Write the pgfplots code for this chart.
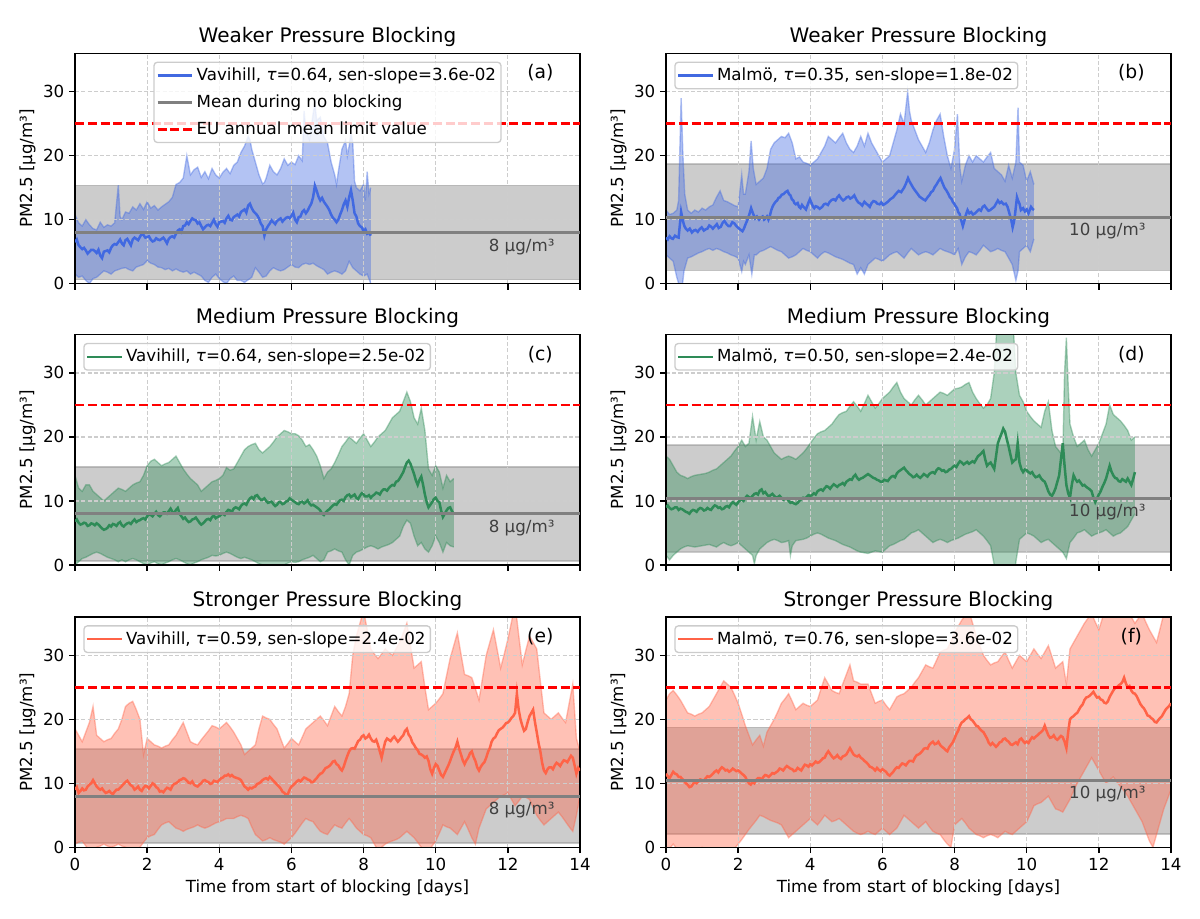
\documentclass[border=0pt]{standalone}
\usepackage{fontspec}
\setmainfont{DejaVu Sans}
\usepackage{pgfplots}
\pgfplotsset{compat=1.18}
\usepgfplotslibrary{fillbetween}
\definecolor{royalblue}{RGB}{65,105,225}
\definecolor{seagreen}{RGB}{46,139,87}
\definecolor{tomato}{RGB}{255,99,71}
\definecolor{mgray}{RGB}{128,128,128}
\definecolor{gridc}{RGB}{205,205,205}
\definecolor{legc}{RGB}{204,204,204}
\definecolor{txtgray}{RGB}{64,64,64}
\tikzset{
  lbl/.style={anchor=east, inner sep=0pt, text=txtgray, font=\fontsize{12}{14}\selectfont},
  plab/.style={font=\fontsize{13.5}{16}\selectfont},
}
\pgfplotsset{
  panel/.style={
    set layers, clip mode=individual,
    scale only axis, width=363.6pt, height=165.9pt,
    xmin=0, xmax=14, ymin=0, ymax=36,
    xtick={0,2,...,14}, ytick={0,10,20,30},
    tick pos=left, tick align=outside,
    major tick length=4.2pt,
    tick style={black, line width=0.96pt},
    axis line style={line width=0.96pt},
    grid=major,
    major grid style={draw=gridc, line width=0.9pt, dash pattern=on 3pt off 1.5pt},
    tick label style={font=\fontsize{12}{14}\selectfont},
    /pgf/number format/assume math mode=true,
    ylabel={PM2.5 [μg/m³]},
    ylabel style={font=\fontsize{12}{14}\selectfont, yshift=-1.5pt},
    xlabel style={font=\fontsize{12}{14}\selectfont},
    every axis title shift=0pt,
    title style={font=\fontsize{14.4}{17}\selectfont, at={(0.5,1)}, anchor=base, yshift=7.6pt},
    legend cell align=left,
    legend image code/.code={\draw[##1] (0pt,0pt) -- (25pt,0pt);},
    legend style={font=\fontsize{12}{14}\selectfont, draw=legc, line width=0.96pt,
      fill=white, fill opacity=0.8, draw opacity=1, text opacity=1, rounded corners=2.4pt,
      inner xsep=1.5pt, inner ysep=2pt, row sep=4.2pt,
      nodes={inner sep=2pt, text depth=0.2em},
      /tikz/every even column/.append style={column sep=4.5pt},
      at={(0,1)}, anchor=north west, xshift=6pt, yshift=-6pt},
    fill between/on layer=axis background,
  },
  band/.style={draw=mgray, draw opacity=0.4, fill=mgray, fill opacity=0.4, line width=1.2pt, on layer=axis background, forget plot},
  edge/.style={draw=#1, draw opacity=0.4, line width=1pt, on layer=axis background, forget plot},
  meanline/.style={mgray, line width=2.2pt},
  euline/.style={red, line width=2pt, dash pattern=on 6.5pt off 2.7pt},
}
\begin{document}
\begin{tikzpicture}
\path (0,0) rectangle (864pt,660.96pt);
% ---------------- (a) ----------------
\begin{axis}[panel, at={(54pt,456.7pt)}, anchor=south west, title={Weaker Pressure Blocking}, xticklabels={},
  legend style={at={(0.5,1)}, anchor=north, xshift=-6pt, yshift=0pt}]
\addplot[band] coordinates {(0,0.65)(14,0.65)(14,15.35)(0,15.35)(0,0.65)};
\addplot[edge=royalblue, name path=aU] coordinates {(0,10.8)(0.1,9.5)(0.2,9.0)(0.3,10.0)(0.4,9.2)(0.5,8.6)(0.6,8.4)(0.7,9.6)(0.8,8.8)(0.9,9.2)(1.0,9.0)(1.1,9.5)(1.2,15.4)(1.25,10.5)(1.3,10.0)(1.4,11.2)(1.5,11.0)(1.6,12.0)(1.7,11.5)(1.8,12.5)(1.9,11.6)(2.0,12.8)(2.1,11.8)(2.2,12.2)(2.3,11.5)(2.4,12.0)(2.5,12.4)(2.6,12.8)(2.7,13.5)(2.8,15.5)(2.9,15.8)(3.0,16.5)(3.1,20.0)(3.2,17.0)(3.3,17.8)(3.4,18.2)(3.5,16.6)(3.6,17.5)(3.7,16.4)(3.8,18.0)(3.9,17.0)(4.0,16.5)(4.1,17.4)(4.2,18.0)(4.3,17.2)(4.4,18.5)(4.5,19.0)(4.6,20.5)(4.7,21.5)(4.8,23.0)(4.85,22.5)(4.9,21.0)(5.0,19.0)(5.1,17.0)(5.2,15.6)(5.25,15.8)(5.3,16.5)(5.4,18.5)(5.5,17.5)(5.6,17.0)(5.7,18.0)(5.8,19.5)(5.9,18.5)(6.0,19.0)(6.1,18.6)(6.2,20.0)(6.3,19.2)(6.35,27.0)(6.4,24.0)(6.5,22.5)(6.6,26.5)(6.65,28.2)(6.7,25.5)(6.8,26.0)(6.9,23.0)(7.0,22.0)(7.1,19.0)(7.2,17.0)(7.25,15.5)(7.3,17.5)(7.4,21.0)(7.5,22.4)(7.55,20.0)(7.6,21.5)(7.65,23.5)(7.7,22.0)(7.75,16.0)(7.8,15.0)(7.9,14.5)(8.0,15.5)(8.05,13.0)(8.1,17.5)(8.15,14.0)(8.2,15.0)};
\addplot[edge=royalblue, name path=aL] coordinates {(0,1.5)(0.1,1.0)(0.2,1.2)(0.3,0.5)(0.4,0.0)(0.5,0.8)(0.6,1.0)(0.7,1.5)(0.8,2.0)(0.9,1.8)(1.0,1.5)(1.1,2.0)(1.2,2.2)(1.3,2.4)(1.4,2.5)(1.5,2.2)(1.6,2.0)(1.7,2.6)(1.8,2.8)(1.9,3.0)(2.0,3.6)(2.1,3.2)(2.2,3.0)(2.3,2.6)(2.4,2.5)(2.5,2.2)(2.6,2.4)(2.7,2.0)(2.8,2.3)(2.9,2.0)(3.0,1.8)(3.1,2.0)(3.2,1.5)(3.3,1.8)(3.4,1.5)(3.5,1.2)(3.6,0.5)(3.7,0.2)(3.8,1.0)(3.9,1.5)(4.0,0.8)(4.1,0.3)(4.2,0.0)(4.3,0.8)(4.4,1.2)(4.5,0.5)(4.6,0.5)(4.7,0.2)(4.8,0.6)(4.9,1.0)(5.0,2.5)(5.1,1.8)(5.2,1.0)(5.3,1.2)(5.4,2.0)(5.5,2.5)(5.6,2.2)(5.7,2.0)(5.8,2.2)(5.9,2.6)(6.0,3.0)(6.1,2.6)(6.2,2.5)(6.3,3.0)(6.4,3.2)(6.5,3.0)(6.6,3.2)(6.7,2.8)(6.8,2.5)(6.9,2.2)(7.0,1.5)(7.1,1.8)(7.2,2.0)(7.3,1.8)(7.4,1.5)(7.5,2.0)(7.6,3.5)(7.7,2.5)(7.8,2.0)(7.9,1.5)(8.0,1.2)(8.1,1.5)(8.2,0.0)};
\addplot[fill=royalblue, fill opacity=0.4, draw=none, forget plot] fill between[of=aU and aL];
\addplot[royalblue, line width=1.8pt] coordinates {(0,6.5)(0.05,6.9)(0.1,6.0)(0.15,5.7)(0.2,5.4)(0.25,5.6)(0.3,5.2)(0.35,4.7)(0.4,5.0)(0.45,5.3)(0.5,5.3)(0.55,5.1)(0.6,4.8)(0.65,5.3)(0.7,4.4)(0.75,4.0)(0.8,5.0)(0.85,5.1)(0.9,5.2)(0.95,4.9)(1.0,5.6)(1.05,6.0)(1.1,6.2)(1.15,6.1)(1.2,6.5)(1.25,6.9)(1.3,6.3)(1.35,6.0)(1.4,6.8)(1.45,7.0)(1.5,6.5)(1.55,6.0)(1.6,6.9)(1.65,7.2)(1.7,7.0)(1.75,6.8)(1.8,7.3)(1.85,7.8)(1.9,7.6)(1.95,7.2)(2.0,7.3)(2.05,7.4)(2.1,6.9)(2.15,6.6)(2.2,6.7)(2.25,7.1)(2.3,6.9)(2.35,6.8)(2.4,7.0)(2.45,7.2)(2.5,6.8)(2.55,6.3)(2.6,7.0)(2.65,7.3)(2.7,7.4)(2.75,7.2)(2.8,7.8)(2.85,8.3)(2.9,8.5)(2.95,8.1)(3.0,9.0)(3.05,9.1)(3.1,9.6)(3.15,9.3)(3.2,9.8)(3.25,10.2)(3.3,10.0)(3.35,9.9)(3.4,9.4)(3.45,9.6)(3.5,9.0)(3.55,8.5)(3.6,8.8)(3.65,9.1)(3.7,9.2)(3.75,9.0)(3.8,9.5)(3.85,10.0)(3.9,9.3)(3.95,8.9)(4.0,9.6)(4.05,9.7)(4.1,9.8)(4.15,9.5)(4.2,10.2)(4.25,10.6)(4.3,10.0)(4.35,9.9)(4.4,10.4)(4.45,10.6)(4.5,10.8)(4.55,10.5)(4.6,11.2)(4.65,11.4)(4.7,11.6)(4.75,11.1)(4.8,12.2)(4.85,12.5)(4.9,11.8)(4.95,11.3)(5.0,11.0)(5.05,10.7)(5.1,10.2)(5.15,9.4)(5.2,9.0)(5.25,7.5)(5.3,8.5)(5.35,9.0)(5.4,9.4)(5.45,9.9)(5.5,9.6)(5.55,9.3)(5.6,9.8)(5.65,10.0)(5.7,10.2)(5.75,9.7)(5.8,10.0)(5.85,10.3)(5.9,10.4)(5.95,10.2)(6.0,10.6)(6.05,11.1)(6.1,10.0)(6.15,9.6)(6.2,10.4)(6.25,10.5)(6.3,11.2)(6.35,11.5)(6.4,11.0)(6.45,11.4)(6.5,12.0)(6.55,12.5)(6.6,13.5)(6.65,15.3)(6.7,14.5)(6.75,13.6)(6.8,13.0)(6.85,13.4)(6.9,12.8)(6.95,12.4)(7.0,12.0)(7.05,11.5)(7.1,10.8)(7.15,10.3)(7.2,10.0)(7.25,9.6)(7.3,10.0)(7.35,10.8)(7.4,11.5)(7.45,12.4)(7.5,13.0)(7.55,12.0)(7.6,13.5)(7.65,14.6)(7.7,13.0)(7.75,11.0)(7.8,10.5)(7.85,9.4)(7.9,9.0)(7.95,8.8)(8.0,8.2)(8.05,8.5)(8.1,7.8)(8.15,8.0)(8.2,7.5)};
\addlegendentry{Vavihill, \textit{τ}=0.64, sen-slope=3.6e-02}
\addplot[meanline] coordinates {(0,8)(14,8)};
\addlegendentry{Mean during no blocking}
\addplot[euline] coordinates {(0,25)(14,25)};
\addlegendentry{EU annual mean limit value}
\node[lbl] at (axis cs:13.3,5.8) {8 μg/m³};
\node[plab] at (axis cs:12.9,32.9) {(a)};
\end{axis}
% ---------------- (b) ----------------
\begin{axis}[panel, at={(479.5pt,456.7pt)}, anchor=south west, title={Weaker Pressure Blocking}, xticklabels={}]
\addplot[band] coordinates {(0,2.07)(14,2.07)(14,18.73)(0,18.73)(0,2.07)};
\addplot[edge=royalblue, name path=bU] coordinates {(0,11.5)(0.1,10.8)(0.2,11.0)(0.3,11.5)(0.35,13.0)(0.42,29.0)(0.47,20.0)(0.52,14.0)(0.6,11.5)(0.7,11.0)(0.8,11.5)(0.9,11.2)(1.0,11.8)(1.1,11.5)(1.2,12.0)(1.3,12.3)(1.4,13.5)(1.5,14.5)(1.6,13.0)(1.7,12.8)(1.8,12.5)(1.9,12.2)(2.0,12.0)(2.1,17.0)(2.15,14.0)(2.2,14.0)(2.3,17.5)(2.36,22.3)(2.42,18.0)(2.5,15.5)(2.6,16.0)(2.7,16.5)(2.8,18.0)(2.9,21.0)(3.0,22.0)(3.1,22.5)(3.2,23.0)(3.3,22.8)(3.4,23.5)(3.5,22.0)(3.6,19.5)(3.7,19.8)(3.8,19.0)(3.9,18.8)(4.0,18.5)(4.1,19.0)(4.2,19.5)(4.3,20.5)(4.4,21.5)(4.5,23.0)(4.6,22.5)(4.7,22.0)(4.8,22.8)(4.9,23.5)(5.0,22.0)(5.1,21.0)(5.2,20.5)(5.3,21.5)(5.4,23.0)(5.5,21.5)(5.6,23.5)(5.7,22.0)(5.8,21.0)(5.9,20.0)(6.0,19.0)(6.1,19.5)(6.2,20.0)(6.3,22.0)(6.4,24.0)(6.5,26.5)(6.6,25.0)(6.7,30.0)(6.75,27.0)(6.8,25.5)(6.9,24.0)(7.0,22.5)(7.1,21.5)(7.2,20.5)(7.3,22.0)(7.4,24.0)(7.5,25.5)(7.6,26.5)(7.7,23.0)(7.8,20.0)(7.9,18.0)(8.0,21.0)(8.08,26.5)(8.15,18.0)(8.2,16.0)(8.3,18.5)(8.4,20.0)(8.5,19.0)(8.6,20.0)(8.7,19.5)(8.8,19.0)(8.9,19.8)(9.0,20.5)(9.1,18.0)(9.2,17.5)(9.3,17.0)(9.4,16.0)(9.5,18.5)(9.6,16.5)(9.7,19.0)(9.76,27.5)(9.8,19.0)(9.9,18.5)(10.0,16.0)(10.1,17.5)(10.2,15.5)};
\addplot[edge=royalblue, name path=bL] coordinates {(0,4.5)(0.1,4.0)(0.2,3.5)(0.3,1.0)(0.38,-0.5)(0.45,-0.5)(0.5,2.0)(0.6,4.0)(0.7,4.2)(0.8,4.5)(0.9,4.8)(1.0,5.0)(1.1,5.3)(1.2,5.5)(1.3,5.2)(1.4,5.5)(1.5,5.3)(1.6,5.0)(1.7,4.8)(1.8,4.5)(1.9,4.3)(2.0,4.0)(2.1,1.9)(2.15,3.5)(2.2,3.0)(2.3,4.5)(2.38,1.5)(2.45,4.5)(2.5,4.5)(2.6,5.0)(2.7,5.2)(2.8,5.5)(2.9,5.8)(3.0,5.5)(3.1,5.2)(3.2,5.0)(3.3,4.5)(3.4,4.0)(3.5,4.2)(3.6,4.5)(3.7,5.0)(3.8,5.5)(3.9,5.2)(4.0,5.0)(4.1,4.5)(4.2,4.0)(4.3,4.6)(4.4,5.0)(4.5,4.8)(4.6,4.5)(4.7,4.2)(4.8,4.0)(4.9,3.8)(5.0,3.5)(5.1,3.2)(5.2,3.0)(5.3,1.5)(5.4,2.5)(5.5,1.5)(5.6,3.0)(5.7,3.5)(5.8,4.0)(5.9,3.8)(6.0,3.5)(6.1,4.0)(6.2,4.5)(6.3,4.8)(6.4,5.0)(6.5,4.5)(6.6,4.0)(6.7,4.8)(6.8,5.5)(6.9,5.0)(7.0,4.5)(7.1,4.8)(7.2,5.0)(7.3,4.8)(7.4,4.5)(7.5,5.0)(7.6,5.5)(7.7,5.2)(7.8,5.0)(7.9,4.8)(8.0,4.5)(8.1,5.5)(8.2,3.0)(8.3,4.2)(8.4,5.0)(8.5,4.8)(8.6,4.5)(8.7,5.2)(8.8,6.0)(8.9,5.5)(9.0,5.0)(9.1,5.2)(9.2,5.5)(9.3,5.2)(9.4,5.0)(9.5,4.0)(9.6,3.0)(9.7,0.5)(9.76,2.0)(9.8,5.0)(9.9,5.5)(10.0,6.0)(10.1,5.0)(10.2,7.0)};
\addplot[fill=royalblue, fill opacity=0.4, draw=none, forget plot] fill between[of=bU and bL];
\addplot[royalblue, line width=1.8pt] coordinates {(0,7.2)(0.05,6.9)(0.1,7.4)(0.15,7.1)(0.19,7.0)(0.25,7.5)(0.3,7.3)(0.35,7.2)(0.42,11.2)(0.47,9.8)(0.51,9.0)(0.55,8.6)(0.6,8.3)(0.66,8.6)(0.72,8.0)(0.77,8.3)(0.82,8.4)(0.88,8.1)(0.93,8.5)(0.99,8.8)(1.05,8.3)(1.1,8.5)(1.15,8.6)(1.2,9.1)(1.25,8.9)(1.3,8.6)(1.36,9.0)(1.41,9.3)(1.46,8.7)(1.52,8.9)(1.57,9.5)(1.62,9.8)(1.68,9.3)(1.73,9.0)(1.78,9.0)(1.84,9.6)(1.9,9.4)(1.95,9.0)(1.99,8.8)(2.05,8.5)(2.12,8.2)(2.16,8.6)(2.2,9.2)(2.26,10.0)(2.31,10.8)(2.36,11.8)(2.41,11.0)(2.47,10.2)(2.52,10.5)(2.58,10.0)(2.63,10.3)(2.68,10.5)(2.72,10.0)(2.76,10.2)(2.8,10.5)(2.84,10.0)(2.88,10.6)(2.92,11.5)(2.96,12.1)(3.0,12.5)(3.04,12.8)(3.08,13.0)(3.12,13.4)(3.16,13.5)(3.21,13.9)(3.26,14.0)(3.31,14.3)(3.37,14.5)(3.41,14.0)(3.45,13.8)(3.49,13.2)(3.53,13.0)(3.56,12.6)(3.6,12.4)(3.65,12.6)(3.69,12.0)(3.73,11.8)(3.77,12.3)(3.81,12.0)(3.85,11.8)(3.88,11.6)(3.92,12.2)(3.96,12.8)(3.99,13.2)(4.02,12.8)(4.05,12.4)(4.08,12.0)(4.11,11.8)(4.15,12.1)(4.2,12.0)(4.26,11.7)(4.33,12.0)(4.38,12.4)(4.43,12.5)(4.49,12.3)(4.54,12.8)(4.6,13.1)(4.65,13.2)(4.7,13.0)(4.75,13.5)(4.8,13.8)(4.86,13.3)(4.91,13.0)(4.96,13.2)(5.01,13.5)(5.06,13.6)(5.11,13.3)(5.17,13.5)(5.22,13.8)(5.28,13.1)(5.33,12.7)(5.39,12.5)(5.44,12.2)(5.5,12.8)(5.55,12.5)(5.6,12.3)(5.65,12.0)(5.7,12.6)(5.75,12.9)(5.81,12.8)(5.86,12.5)(5.92,12.4)(5.97,12.7)(6.02,12.3)(6.08,12.5)(6.15,12.8)(6.22,13.2)(6.3,13.5)(6.37,14.0)(6.45,14.5)(6.52,14.3)(6.6,15.0)(6.65,15.6)(6.71,16.5)(6.75,16.0)(6.8,15.5)(6.85,15.0)(6.9,14.6)(6.94,14.3)(6.98,14.0)(7.03,13.6)(7.08,13.4)(7.13,13.2)(7.19,13.0)(7.25,13.5)(7.3,13.8)(7.35,14.3)(7.4,14.5)(7.45,15.1)(7.5,15.5)(7.55,16.0)(7.61,16.5)(7.66,15.8)(7.72,15.0)(7.77,14.6)(7.83,14.0)(7.87,13.5)(7.91,13.3)(7.95,12.8)(7.99,12.5)(8.03,12.1)(8.07,11.8)(8.1,11.2)(8.14,10.9)(8.18,10.0)(8.23,9.0)(8.27,9.8)(8.3,10.5)(8.33,11.0)(8.36,11.5)(8.41,11.0)(8.46,11.2)(8.51,10.8)(8.57,11.0)(8.62,11.3)(8.68,11.6)(8.73,11.4)(8.78,12.0)(8.83,12.2)(8.88,11.8)(8.94,11.4)(8.99,11.5)(9.05,11.8)(9.1,12.0)(9.15,12.5)(9.2,13.0)(9.25,12.6)(9.3,12.8)(9.36,12.4)(9.42,12.5)(9.47,12.0)(9.52,11.0)(9.57,10.0)(9.61,8.8)(9.64,9.5)(9.67,10.5)(9.7,12.0)(9.73,13.5)(9.76,13.0)(9.8,12.5)(9.84,11.5)(9.9,11.8)(9.95,11.3)(10.0,11.6)(10.05,11.0)(10.12,12.0)(10.16,11.7)(10.2,11.5)};
\addlegendentry{Malmö, \textit{τ}=0.35, sen-slope=1.8e-02}
\addplot[meanline, forget plot] coordinates {(0,10.4)(14,10.4)};
\addplot[euline, forget plot] coordinates {(0,25)(14,25)};
\node[lbl] at (axis cs:13.3,8.3) {10 μg/m³};
\node[plab] at (axis cs:12.9,32.9) {(b)};
\end{axis}
% ---------------- (c) ----------------
\begin{axis}[panel, at={(54pt,254.2pt)}, anchor=south west, title={Medium Pressure Blocking}, xticklabels={}]
\addplot[band] coordinates {(0,0.65)(14,0.65)(14,15.35)(0,15.35)(0,0.65)};
\addplot[edge=seagreen, name path=cU] coordinates {(0,14.0)(0.1,12.0)(0.2,11.5)(0.3,12.5)(0.4,12.5)(0.5,11.5)(0.6,11.0)(0.7,10.5)(0.8,10.0)(0.9,10.5)(1.0,11.0)(1.1,11.5)(1.2,12.0)(1.3,11.8)(1.4,11.5)(1.5,12.0)(1.6,12.5)(1.7,12.8)(1.8,13.0)(1.9,14.0)(2.0,15.5)(2.1,16.2)(2.2,16.5)(2.3,16.0)(2.4,15.5)(2.5,15.8)(2.6,16.0)(2.7,16.5)(2.8,17.0)(2.9,16.0)(3.0,15.0)(3.1,14.2)(3.2,13.5)(3.3,13.0)(3.4,12.5)(3.5,11.5)(3.6,12.0)(3.7,12.5)(3.8,13.0)(3.9,13.2)(4.0,13.5)(4.1,14.0)(4.2,15.2)(4.3,14.8)(4.4,15.0)(4.5,16.0)(4.6,17.0)(4.7,18.0)(4.8,18.5)(4.9,18.8)(5.0,19.0)(5.1,18.0)(5.2,17.5)(5.3,18.0)(5.4,18.5)(5.5,19.2)(5.6,20.0)(5.7,20.5)(5.8,21.0)(5.9,20.8)(6.0,20.5)(6.1,20.5)(6.2,20.2)(6.3,19.5)(6.4,18.5)(6.5,18.8)(6.6,18.0)(6.7,17.0)(6.8,15.5)(6.9,13.5)(7.0,14.5)(7.1,15.0)(7.2,16.0)(7.3,17.2)(7.4,18.5)(7.5,19.2)(7.6,20.0)(7.7,19.5)(7.8,19.0)(7.9,19.8)(8.0,20.5)(8.1,19.5)(8.2,18.5)(8.3,19.2)(8.4,20.0)(8.5,20.5)(8.6,21.0)(8.7,22.0)(8.8,23.0)(8.9,23.5)(9.0,24.0)(9.1,25.5)(9.2,27.0)(9.3,25.5)(9.4,23.0)(9.5,22.0)(9.6,24.5)(9.7,21.0)(9.8,15.0)(9.9,14.0)(10.0,15.5)(10.1,14.5)(10.2,12.0)(10.3,14.0)(10.4,13.0)(10.5,13.5)};
\addplot[edge=seagreen, name path=cL] coordinates {(0,0.0)(0.1,0.5)(0.2,1.0)(0.3,1.2)(0.4,1.5)(0.5,1.8)(0.6,2.0)(0.7,1.8)(0.8,1.5)(0.9,1.2)(1.0,1.0)(1.1,0.8)(1.2,0.5)(1.3,0.8)(1.4,0.5)(1.5,0.8)(1.6,1.0)(1.7,0.8)(1.8,0.5)(1.9,0.2)(2.0,0.0)(2.1,0.3)(2.2,0.5)(2.3,0.2)(2.4,0.0)(2.5,0.3)(2.6,0.5)(2.7,0.8)(2.8,1.0)(2.9,0.8)(3.0,0.5)(3.1,0.2)(3.2,0.0)(3.3,0.3)(3.4,0.5)(3.5,0.8)(3.6,1.0)(3.7,1.2)(3.8,1.5)(3.9,1.4)(4.0,1.5)(4.1,1.8)(4.2,2.0)(4.3,1.8)(4.4,1.5)(4.5,1.2)(4.6,1.0)(4.7,1.2)(4.8,1.0)(4.9,0.8)(5.0,0.5)(5.1,0.2)(5.2,0.0)(5.4,-0.5)(5.6,-1.0)(5.8,0.0)(5.9,0.3)(6.0,0.5)(6.1,0.4)(6.2,0.5)(6.3,0.8)(6.4,1.0)(6.5,1.2)(6.6,1.5)(6.7,1.0)(6.8,0.5)(6.9,0.8)(7.0,2.0)(7.1,2.2)(7.2,2.5)(7.3,2.2)(7.4,2.0)(7.5,0.8)(7.6,0.0)(7.7,1.5)(7.8,2.0)(7.9,2.2)(8.0,2.5)(8.1,2.8)(8.2,3.0)(8.3,2.8)(8.4,2.5)(8.5,2.8)(8.6,3.0)(8.7,3.2)(8.8,3.5)(8.9,4.0)(9.0,4.5)(9.1,6.0)(9.2,7.0)(9.3,6.5)(9.4,4.5)(9.5,3.0)(9.6,3.5)(9.7,2.5)(9.8,2.0)(9.9,3.0)(10.0,4.5)(10.1,3.5)(10.2,2.0)(10.3,3.5)(10.4,3.0)(10.5,2.8)};
\addplot[fill=seagreen, fill opacity=0.4, draw=none, forget plot] fill between[of=cU and cL];
\addplot[seagreen, line width=1.8pt] coordinates {(0,6.8)(0.05,7.1)(0.1,6.6)(0.15,6.3)(0.2,6.4)(0.25,6.6)(0.3,6.5)(0.35,6.1)(0.4,6.2)(0.45,6.5)(0.5,6.4)(0.55,6.2)(0.6,6.5)(0.65,6.3)(0.7,6.0)(0.75,5.7)(0.8,5.5)(0.85,5.6)(0.9,5.8)(0.95,6.2)(1.0,6.0)(1.05,6.4)(1.1,6.3)(1.15,6.1)(1.2,6.5)(1.25,6.7)(1.3,6.2)(1.35,6.0)(1.4,6.3)(1.45,6.5)(1.5,6.6)(1.55,6.4)(1.6,6.8)(1.65,7.1)(1.7,6.7)(1.75,6.9)(1.8,7.0)(1.85,7.2)(1.9,7.3)(1.95,7.1)(2.0,7.6)(2.05,7.9)(2.1,7.8)(2.15,7.6)(2.2,8.0)(2.25,8.3)(2.3,7.8)(2.35,7.6)(2.4,7.9)(2.45,8.2)(2.5,8.2)(2.55,8.0)(2.6,8.4)(2.65,8.8)(2.7,8.3)(2.75,8.1)(2.8,8.6)(2.85,8.9)(2.9,8.0)(2.95,7.6)(3.0,7.2)(3.05,7.4)(3.1,7.0)(3.15,6.7)(3.2,6.8)(3.25,7.1)(3.3,7.2)(3.35,7.4)(3.4,7.0)(3.45,6.6)(3.5,6.3)(3.55,6.5)(3.6,6.8)(3.65,7.1)(3.7,7.2)(3.75,7.0)(3.8,7.5)(3.85,7.7)(3.9,7.3)(3.95,7.5)(4.0,7.6)(4.05,7.9)(4.1,8.0)(4.15,7.8)(4.2,8.3)(4.25,8.6)(4.3,8.5)(4.35,8.3)(4.4,8.8)(4.45,9.0)(4.5,8.9)(4.55,8.7)(4.6,9.2)(4.65,9.5)(4.7,9.6)(4.75,9.4)(4.8,10.0)(4.85,10.4)(4.9,10.6)(4.95,10.3)(5.0,10.8)(5.05,10.9)(5.1,10.5)(5.15,10.2)(5.2,10.2)(5.25,10.4)(5.3,10.0)(5.35,9.7)(5.4,9.8)(5.45,9.9)(5.5,9.5)(5.55,9.2)(5.6,9.4)(5.65,9.8)(5.7,9.8)(5.75,9.5)(5.8,9.6)(5.85,9.9)(5.9,10.0)(5.95,10.4)(6.0,10.2)(6.05,10.0)(6.1,9.8)(6.15,9.6)(6.2,9.5)(6.25,9.8)(6.3,9.9)(6.35,9.6)(6.4,9.8)(6.45,10.1)(6.5,9.6)(6.55,9.3)(6.6,9.4)(6.65,9.2)(6.7,9.0)(6.75,8.8)(6.8,8.5)(6.85,8.0)(6.9,7.8)(6.95,8.2)(7.0,8.5)(7.05,8.7)(7.1,9.0)(7.15,9.3)(7.2,9.5)(7.25,9.4)(7.3,9.8)(7.35,10.1)(7.4,10.2)(7.45,10.0)(7.5,10.6)(7.55,10.9)(7.6,11.0)(7.65,10.6)(7.7,10.8)(7.75,11.0)(7.8,10.5)(7.85,10.3)(7.9,10.8)(7.95,11.2)(8.0,11.0)(8.05,10.7)(8.1,10.7)(8.15,10.9)(8.2,10.5)(8.25,10.8)(8.3,11.0)(8.35,11.3)(8.4,11.2)(8.45,11.0)(8.5,11.5)(8.55,11.8)(8.6,11.8)(8.65,11.6)(8.7,12.0)(8.75,12.3)(8.8,12.5)(8.85,12.4)(8.9,13.0)(8.95,13.1)(9.0,13.5)(9.05,14.0)(9.1,14.5)(9.15,15.3)(9.2,16.0)(9.25,16.3)(9.3,15.8)(9.35,15.0)(9.4,14.2)(9.45,13.2)(9.5,12.5)(9.55,13.3)(9.6,13.8)(9.65,12.5)(9.7,11.0)(9.75,9.8)(9.8,9.0)(9.85,9.4)(9.9,9.8)(9.95,10.3)(10.0,10.5)(10.05,10.0)(10.1,9.8)(10.15,8.5)(10.2,7.5)(10.25,8.0)(10.3,8.5)(10.35,8.9)(10.4,9.0)(10.45,8.4)(10.5,8.0)};
\addlegendentry{Vavihill, \textit{τ}=0.64, sen-slope=2.5e-02}
\addplot[meanline, forget plot] coordinates {(0,8)(14,8)};
\addplot[euline, forget plot] coordinates {(0,25)(14,25)};
\node[lbl] at (axis cs:13.3,5.8) {8 μg/m³};
\node[plab] at (axis cs:12.9,32.9) {(c)};
\end{axis}
% ---------------- (d) ----------------
\begin{axis}[panel, at={(479.5pt,254.2pt)}, anchor=south west, title={Medium Pressure Blocking}, xticklabels={}]
\addplot[band] coordinates {(0,2.07)(14,2.07)(14,18.73)(0,18.73)(0,2.07)};
\addplot[edge=seagreen, name path=dU] coordinates {(0,17.0)(0.1,16.5)(0.2,15.5)(0.3,14.5)(0.4,14.0)(0.5,13.8)(0.6,13.5)(0.7,13.8)(0.8,14.0)(0.9,14.1)(1.0,14.2)(1.1,14.3)(1.2,14.5)(1.3,14.8)(1.4,15.0)(1.5,15.5)(1.6,16.0)(1.7,16.5)(1.8,17.0)(1.9,17.8)(2.0,18.5)(2.1,19.5)(2.2,18.5)(2.3,19.0)(2.4,23.2)(2.5,19.5)(2.6,22.4)(2.7,20.0)(2.8,19.5)(2.9,18.5)(3.0,17.5)(3.1,17.0)(3.2,16.5)(3.3,16.8)(3.4,17.0)(3.5,16.8)(3.6,16.5)(3.7,17.0)(3.8,17.5)(3.9,18.2)(4.0,19.0)(4.1,19.8)(4.2,20.5)(4.3,20.8)(4.4,21.0)(4.5,21.5)(4.6,22.0)(4.7,22.8)(4.8,23.5)(4.9,23.8)(5.0,24.0)(5.1,24.8)(5.2,25.5)(5.3,24.8)(5.4,24.0)(5.5,25.2)(5.6,26.5)(5.7,25.5)(5.8,24.5)(5.9,25.2)(6.0,26.0)(6.1,26.5)(6.2,27.0)(6.3,27.8)(6.4,28.5)(6.5,27.0)(6.6,26.0)(6.7,25.5)(6.8,25.0)(6.9,25.8)(7.0,26.5)(7.1,25.8)(7.2,25.0)(7.3,25.5)(7.4,26.0)(7.5,26.5)(7.6,27.0)(7.7,26.8)(7.8,26.5)(7.9,27.0)(8.0,27.5)(8.1,27.6)(8.2,27.8)(8.3,28.2)(8.4,28.5)(8.5,27.0)(8.6,26.0)(8.7,25.2)(8.8,24.5)(8.9,25.0)(9.0,26.0)(9.1,30.0)(9.2,40.0)(9.6,40.0)(9.7,30.0)(9.8,26.5)(9.9,25.5)(10.0,24.0)(10.1,23.2)(10.2,22.5)(10.3,22.0)(10.4,21.5)(10.5,24.0)(10.6,25.5)(10.7,21.0)(10.8,18.5)(10.9,17.8)(11.0,17.0)(11.05,30.0)(11.1,35.5)(11.15,28.0)(11.2,22.0)(11.3,20.0)(11.4,18.5)(11.5,19.0)(11.6,19.5)(11.7,18.0)(11.8,17.0)(11.9,18.0)(12.0,19.0)(12.1,20.5)(12.2,22.0)(12.3,25.0)(12.4,23.5)(12.5,23.0)(12.6,22.5)(12.7,21.8)(12.8,21.0)(12.9,19.5)(13.0,20.0)};
\addplot[edge=seagreen, name path=dL] coordinates {(0,1.5)(0.1,0.8)(0.2,1.5)(0.3,2.0)(0.4,2.5)(0.5,2.8)(0.6,3.0)(0.7,2.9)(0.8,2.8)(0.9,2.9)(1.0,3.0)(1.1,3.1)(1.2,3.2)(1.3,3.0)(1.4,2.8)(1.5,3.2)(1.6,3.5)(1.7,3.2)(1.8,3.0)(1.9,3.2)(2.0,3.5)(2.1,3.0)(2.2,2.5)(2.3,2.0)(2.4,1.5)(2.45,0.2)(2.5,1.5)(2.6,2.5)(2.7,3.0)(2.8,3.5)(2.9,3.8)(3.0,4.0)(3.1,3.8)(3.2,3.5)(3.3,3.6)(3.4,3.8)(3.45,1.5)(3.5,3.0)(3.6,3.8)(3.7,3.9)(3.8,4.0)(3.9,4.2)(4.0,4.5)(4.1,4.8)(4.2,5.0)(4.3,4.8)(4.4,4.5)(4.5,4.2)(4.6,4.0)(4.7,3.8)(4.8,3.5)(4.9,3.2)(5.0,3.0)(5.1,2.8)(5.2,2.5)(5.3,2.2)(5.4,2.0)(5.5,1.9)(5.6,1.8)(5.7,2.0)(5.8,2.2)(5.9,2.1)(6.0,2.0)(6.1,2.5)(6.2,3.0)(6.3,3.2)(6.4,3.5)(6.5,3.8)(6.6,4.0)(6.7,4.5)(6.8,5.0)(6.9,5.2)(7.0,5.5)(7.1,5.0)(7.2,4.5)(7.3,4.0)(7.4,3.5)(7.5,3.8)(7.6,4.0)(7.7,3.8)(7.8,3.5)(7.9,3.8)(8.0,4.0)(8.1,4.2)(8.2,4.5)(8.3,4.8)(8.4,5.0)(8.5,5.2)(8.6,5.5)(8.7,5.0)(8.8,4.5)(8.9,3.8)(9.0,3.0)(9.1,0.0)(9.2,-5.0)(9.6,-5.0)(9.7,0.5)(9.8,4.0)(9.9,4.5)(10.0,5.0)(10.1,4.8)(10.2,4.5)(10.3,4.0)(10.4,3.5)(10.5,3.8)(10.6,4.0)(10.7,3.5)(10.8,3.0)(10.9,2.5)(11.0,2.0)(11.1,1.0)(11.2,3.5)(11.3,4.2)(11.4,5.0)(11.5,5.2)(11.6,5.5)(11.7,5.0)(11.8,4.5)(11.9,4.8)(12.0,5.0)(12.1,5.2)(12.2,5.5)(12.3,5.0)(12.4,4.5)(12.5,4.8)(12.6,5.0)(12.7,5.5)(12.8,6.0)(12.9,7.0)(13.0,8.0)};
\addplot[fill=seagreen, fill opacity=0.4, draw=none, forget plot] fill between[of=dU and dL];
\addplot[seagreen, line width=1.8pt] coordinates {(0,9.0)(0.05,9.3)(0.1,8.9)(0.15,8.7)(0.2,8.8)(0.25,9.0)(0.3,9.0)(0.35,8.6)(0.4,8.8)(0.45,8.7)(0.5,8.5)(0.55,8.3)(0.6,8.2)(0.65,8.0)(0.7,8.4)(0.75,8.6)(0.8,8.5)(0.85,8.3)(0.9,8.7)(0.95,8.9)(1.0,8.8)(1.05,8.5)(1.1,8.6)(1.15,8.9)(1.2,8.7)(1.25,8.6)(1.3,9.0)(1.35,9.3)(1.4,9.2)(1.45,8.9)(1.5,9.0)(1.55,8.7)(1.6,8.8)(1.65,9.1)(1.7,9.2)(1.75,9.0)(1.8,9.5)(1.85,9.8)(1.9,9.6)(1.95,9.4)(2.0,9.8)(2.05,10.1)(2.1,10.2)(2.15,10.0)(2.2,10.5)(2.25,10.8)(2.3,10.6)(2.35,10.4)(2.4,10.8)(2.45,11.1)(2.5,11.2)(2.55,11.0)(2.6,11.6)(2.65,11.8)(2.7,11.2)(2.75,11.4)(2.8,11.0)(2.85,10.7)(2.9,10.9)(2.95,11.1)(3.0,10.8)(3.05,10.5)(3.1,10.6)(3.15,10.8)(3.2,10.5)(3.25,10.2)(3.3,10.3)(3.35,10.4)(3.4,10.0)(3.45,9.7)(3.5,9.8)(3.55,9.6)(3.6,9.5)(3.65,9.7)(3.7,10.0)(3.75,10.3)(3.8,10.5)(3.85,10.4)(3.9,10.6)(3.95,10.9)(4.0,10.8)(4.05,10.9)(4.1,11.2)(4.15,11.0)(4.2,11.5)(4.25,11.7)(4.3,11.8)(4.35,11.6)(4.4,12.0)(4.45,12.3)(4.5,12.2)(4.55,11.9)(4.6,12.3)(4.65,12.6)(4.7,12.4)(4.75,12.2)(4.8,12.5)(4.85,12.6)(4.9,12.8)(4.95,12.5)(5.0,13.0)(5.05,13.2)(5.1,13.4)(5.15,13.3)(5.2,13.8)(5.25,14.1)(5.3,13.6)(5.35,13.3)(5.4,13.5)(5.45,13.6)(5.5,13.8)(5.55,14.0)(5.6,14.2)(5.65,14.0)(5.7,13.8)(5.75,13.6)(5.8,13.5)(5.85,13.3)(5.9,13.2)(5.95,13.0)(6.0,13.0)(6.05,13.3)(6.1,13.2)(6.15,13.1)(6.2,13.5)(6.25,13.8)(6.3,13.9)(6.35,13.7)(6.4,14.3)(6.45,14.6)(6.5,14.8)(6.55,15.0)(6.6,15.2)(6.65,14.8)(6.7,14.5)(6.75,14.2)(6.8,14.0)(6.85,13.7)(6.9,13.8)(6.95,14.1)(7.0,13.8)(7.05,13.6)(7.1,13.9)(7.15,14.2)(7.2,14.0)(7.25,13.8)(7.3,14.2)(7.35,14.4)(7.4,14.5)(7.45,14.3)(7.5,14.8)(7.55,15.1)(7.6,15.0)(7.65,14.7)(7.7,14.8)(7.75,14.5)(7.8,14.6)(7.85,14.9)(7.9,15.0)(7.95,15.3)(8.0,15.5)(8.05,15.3)(8.1,15.8)(8.15,16.2)(8.2,16.0)(8.25,15.7)(8.3,15.9)(8.35,16.1)(8.4,15.8)(8.45,16.0)(8.5,16.2)(8.55,16.0)(8.6,16.5)(8.65,17.0)(8.7,17.2)(8.75,17.5)(8.8,17.8)(8.85,16.5)(8.9,15.5)(8.95,15.8)(9.0,16.0)(9.05,15.5)(9.1,15.0)(9.15,17.0)(9.2,19.0)(9.25,19.8)(9.3,20.5)(9.35,21.3)(9.4,20.8)(9.45,19.6)(9.5,18.5)(9.55,17.2)(9.6,16.0)(9.65,16.3)(9.7,16.5)(9.75,19.0)(9.8,16.0)(9.85,15.0)(9.9,14.5)(9.95,14.9)(10.0,14.8)(10.05,14.5)(10.1,14.3)(10.15,14.5)(10.2,14.0)(10.25,13.7)(10.3,13.8)(10.35,14.0)(10.4,13.5)(10.45,13.2)(10.5,13.0)(10.55,12.3)(10.6,11.5)(10.65,11.0)(10.7,10.8)(10.75,11.3)(10.8,12.0)(10.85,13.0)(10.9,14.0)(10.95,16.5)(11.0,19.0)(11.05,15.5)(11.1,12.5)(11.15,11.2)(11.2,10.5)(11.25,12.5)(11.3,14.0)(11.35,13.4)(11.4,13.0)(11.45,13.2)(11.5,12.8)(11.55,12.4)(11.6,12.5)(11.65,12.2)(11.7,12.0)(11.75,11.8)(11.8,11.5)(11.85,10.5)(11.9,9.8)(11.95,10.4)(12.0,11.0)(12.05,11.5)(12.1,12.2)(12.15,12.8)(12.2,13.5)(12.25,14.5)(12.3,15.5)(12.35,14.6)(12.4,14.0)(12.45,13.6)(12.5,13.5)(12.55,13.1)(12.6,13.0)(12.65,13.4)(12.7,13.2)(12.75,13.0)(12.8,13.5)(12.85,13.0)(12.9,12.5)(12.95,13.4)(13.0,14.5)};
\addlegendentry{Malmö, \textit{τ}=0.50, sen-slope=2.4e-02}
\addplot[meanline, forget plot] coordinates {(0,10.4)(14,10.4)};
\addplot[euline, forget plot] coordinates {(0,25)(14,25)};
\node[lbl] at (axis cs:13.3,8.3) {10 μg/m³};
\node[plab] at (axis cs:12.9,32.9) {(d)};
\end{axis}
% ---------------- (e) ----------------
\begin{axis}[panel, at={(54pt,50.9pt)}, anchor=south west, title={Stronger Pressure Blocking}, xlabel={Time from start of blocking [days]}]
\addplot[band] coordinates {(0,0.65)(14,0.65)(14,15.35)(0,15.35)(0,0.65)};
\addplot[edge=tomato, name path=eU] coordinates {(0,18.5)(0.1,17.5)(0.2,16.5)(0.3,18.0)(0.4,19.5)(0.5,22.0)(0.6,17.5)(0.7,17.0)(0.8,16.5)(0.9,16.8)(1.0,17.0)(1.1,17.8)(1.2,18.5)(1.3,20.0)(1.4,22.0)(1.5,22.5)(1.6,22.8)(1.7,21.5)(1.8,20.0)(1.9,14.5)(2.0,17.0)(2.1,16.5)(2.2,16.0)(2.3,15.8)(2.4,15.5)(2.5,15.8)(2.6,16.0)(2.7,16.8)(2.8,17.5)(2.9,18.5)(3.0,19.5)(3.1,18.0)(3.2,16.5)(3.3,16.2)(3.4,16.0)(3.5,16.8)(3.6,17.5)(3.7,18.2)(3.8,19.0)(3.9,18.8)(4.0,18.5)(4.1,19.0)(4.2,19.5)(4.3,18.8)(4.4,18.0)(4.5,17.0)(4.6,16.0)(4.7,14.5)(4.8,15.0)(4.9,15.5)(5.0,16.0)(5.1,18.5)(5.2,20.5)(5.3,20.2)(5.4,20.0)(5.5,19.2)(5.6,18.5)(5.7,17.0)(5.8,15.5)(5.9,16.2)(6.0,17.0)(6.1,16.5)(6.2,16.0)(6.3,17.2)(6.4,18.5)(6.5,19.0)(6.6,19.5)(6.7,20.0)(6.8,20.5)(6.9,19.8)(7.0,19.0)(7.1,20.5)(7.2,22.0)(7.3,21.2)(7.4,20.5)(7.5,22.0)(7.6,24.0)(7.7,30.0)(7.8,33.0)(7.9,35.0)(8.0,37.0)(8.1,34.0)(8.2,31.0)(8.3,30.2)(8.4,29.5)(8.5,30.2)(8.6,31.0)(8.7,30.5)(8.8,30.0)(8.9,31.0)(9.0,32.0)(9.1,33.5)(9.2,35.0)(9.3,31.5)(9.4,28.0)(9.5,28.5)(9.6,29.0)(9.7,25.0)(9.8,21.5)(9.9,22.0)(10.0,22.5)(10.1,23.2)(10.2,24.0)(10.3,26.8)(10.4,29.5)(10.5,31.5)(10.6,33.5)(10.7,30.2)(10.8,27.0)(10.9,26.8)(11.0,26.5)(11.1,24.8)(11.2,23.0)(11.3,26.5)(11.4,30.0)(11.5,32.0)(11.6,34.0)(11.7,31.0)(11.8,28.0)(11.9,30.2)(12.0,32.5)(12.1,35.2)(12.2,38.0)(12.3,33.2)(12.4,28.5)(12.5,30.8)(12.6,33.0)(12.7,32.0)(12.8,31.0)(12.9,26.0)(13.0,21.0)(13.1,20.5)(13.2,20.0)(13.3,20.5)(13.4,21.0)(13.5,20.2)(13.6,19.5)(13.7,22.5)(13.8,25.5)(13.9,17.0)(14.0,15.0)};
\addplot[edge=tomato, name path=eL] coordinates {(0,0.5)(0.1,0.8)(0.2,1.0)(0.3,0.2)(0.4,-0.5)(0.5,-0.2)(0.6,0.0)(0.7,0.2)(0.8,0.5)(0.9,0.2)(1.0,0.0)(1.1,0.2)(1.2,0.5)(1.3,0.2)(1.4,0.0)(1.5,-0.2)(1.6,-0.5)(1.7,-0.2)(1.8,0.0)(1.9,0.8)(2.0,1.5)(2.1,1.8)(2.2,2.0)(2.3,2.8)(2.4,3.5)(2.5,3.8)(2.6,4.0)(2.7,3.5)(2.8,3.0)(2.9,2.8)(3.0,2.5)(3.1,2.8)(3.2,3.0)(3.3,3.2)(3.4,3.5)(3.5,3.2)(3.6,3.0)(3.7,3.2)(3.8,3.5)(3.9,3.8)(4.0,4.0)(4.1,4.2)(4.2,4.5)(4.3,4.5)(4.4,4.5)(4.5,4.8)(4.6,5.0)(4.7,4.8)(4.8,4.5)(4.9,3.2)(5.0,2.0)(5.1,1.5)(5.2,1.0)(5.3,1.2)(5.4,1.5)(5.5,1.2)(5.6,1.0)(5.7,0.8)(5.8,0.5)(5.9,1.0)(6.0,1.5)(6.1,2.2)(6.2,3.0)(6.3,3.8)(6.4,4.5)(6.5,4.2)(6.6,4.0)(6.7,3.2)(6.8,2.5)(6.9,2.2)(7.0,2.0)(7.1,2.8)(7.2,3.5)(7.3,3.2)(7.4,3.0)(7.5,3.8)(7.6,4.5)(7.7,3.8)(7.8,3.0)(7.9,2.5)(8.0,2.0)(8.1,1.8)(8.2,1.5)(8.3,0.5)(8.4,-0.5)(8.5,0.0)(8.6,0.5)(8.7,0.8)(8.8,1.0)(8.9,1.2)(9.0,1.5)(9.1,2.0)(9.2,2.5)(9.3,2.0)(9.4,1.5)(9.5,0.8)(9.6,0.0)(9.7,-0.2)(9.8,-0.5)(9.9,0.2)(10.0,1.0)(10.1,2.2)(10.2,3.5)(10.3,3.2)(10.4,3.0)(10.5,2.5)(10.6,2.0)(10.7,3.0)(10.8,4.0)(10.9,2.8)(11.0,1.5)(11.1,0.5)(11.2,3.0)(11.3,4.5)(11.4,6.0)(11.5,6.5)(11.6,7.0)(11.7,7.5)(11.8,8.0)(11.9,8.2)(12.0,8.5)(12.1,7.5)(12.2,6.5)(12.3,7.2)(12.4,8.0)(12.5,7.8)(12.6,7.5)(12.7,6.2)(12.8,5.0)(12.9,4.2)(13.0,3.5)(13.1,4.0)(13.2,4.5)(13.3,5.0)(13.4,5.5)(13.5,4.8)(13.6,4.0)(13.7,3.2)(13.8,2.5)(13.9,5.0)(14.0,8.0)};
\addplot[fill=tomato, fill opacity=0.4, draw=none, forget plot] fill between[of=eU and eL];
\addplot[tomato, line width=1.8pt] coordinates {(0,9.0)(0.05,9.4)(0.1,8.5)(0.15,8.8)(0.2,9.2)(0.25,8.9)(0.3,9.0)(0.35,9.5)(0.4,9.8)(0.45,10.0)(0.5,10.5)(0.55,10.0)(0.6,9.5)(0.65,9.2)(0.7,9.0)(0.75,9.2)(0.8,8.8)(0.85,8.5)(0.9,8.6)(0.95,8.8)(1.0,8.5)(1.05,8.3)(1.1,8.7)(1.15,9.0)(1.2,9.0)(1.25,9.3)(1.3,9.6)(1.35,9.9)(1.4,10.2)(1.45,10.4)(1.5,10.0)(1.55,9.7)(1.6,9.5)(1.65,9.0)(1.7,9.2)(1.75,9.5)(1.8,9.0)(1.85,8.8)(1.9,9.3)(1.95,9.6)(2.0,9.5)(2.05,9.2)(2.1,9.6)(2.15,10.0)(2.2,9.8)(2.25,9.4)(2.3,9.2)(2.35,8.7)(2.4,8.8)(2.45,8.6)(2.5,9.0)(2.55,9.3)(2.6,9.2)(2.65,9.0)(2.7,9.6)(2.75,9.9)(2.8,10.0)(2.85,10.2)(2.9,10.5)(2.95,10.6)(3.0,10.8)(3.05,10.7)(3.1,10.4)(3.15,10.1)(3.2,10.0)(3.25,10.3)(3.3,9.8)(3.35,9.6)(3.4,9.5)(3.45,9.8)(3.5,10.0)(3.55,10.4)(3.6,10.5)(3.65,10.3)(3.7,10.2)(3.75,9.9)(3.8,10.0)(3.85,10.4)(3.9,10.3)(3.95,10.2)(4.0,10.5)(4.05,10.8)(4.1,10.9)(4.15,11.2)(4.2,11.2)(4.25,11.4)(4.3,11.1)(4.35,11.3)(4.4,11.0)(4.45,10.9)(4.5,10.8)(4.55,10.7)(4.6,10.5)(4.65,10.0)(4.7,9.5)(4.75,9.3)(4.8,9.0)(4.85,9.3)(4.9,9.2)(4.95,9.4)(5.0,9.5)(5.05,9.9)(5.1,10.0)(5.15,10.2)(5.2,10.5)(5.25,10.7)(5.3,10.8)(5.35,10.6)(5.4,11.0)(5.45,10.7)(5.5,10.4)(5.55,10.1)(5.6,9.8)(5.65,9.5)(5.7,9.2)(5.75,8.7)(5.8,8.5)(5.85,8.2)(5.9,8.3)(5.95,9.0)(6.0,9.5)(6.05,9.7)(6.1,10.0)(6.15,10.3)(6.2,10.5)(6.25,10.3)(6.3,10.6)(6.35,10.9)(6.4,10.8)(6.45,10.6)(6.5,10.5)(6.55,10.2)(6.6,10.2)(6.65,10.5)(6.7,10.8)(6.75,11.2)(6.8,11.5)(6.85,11.6)(6.9,12.0)(6.95,12.4)(7.0,12.5)(7.05,12.7)(7.1,13.0)(7.15,13.4)(7.2,13.5)(7.25,13.0)(7.3,12.8)(7.35,12.3)(7.4,12.0)(7.45,12.6)(7.5,13.5)(7.55,14.3)(7.6,15.0)(7.65,15.4)(7.7,15.5)(7.75,15.4)(7.8,16.0)(7.85,16.6)(7.9,16.8)(7.95,17.3)(8.0,17.5)(8.05,17.0)(8.1,17.2)(8.15,17.6)(8.2,17.0)(8.25,16.6)(8.3,16.5)(8.35,16.8)(8.4,16.0)(8.45,15.0)(8.5,14.0)(8.55,15.3)(8.6,16.5)(8.65,17.0)(8.7,16.8)(8.75,16.6)(8.8,17.0)(8.85,17.3)(8.9,16.9)(8.95,16.5)(9.0,16.8)(9.05,17.2)(9.1,17.5)(9.15,18.2)(9.2,18.5)(9.25,17.6)(9.3,17.2)(9.35,16.4)(9.4,16.0)(9.45,15.5)(9.5,15.2)(9.55,14.6)(9.6,14.5)(9.65,14.3)(9.7,14.0)(9.75,14.2)(9.8,13.5)(9.85,12.2)(9.9,11.5)(9.95,12.4)(10.0,13.0)(10.05,12.7)(10.1,12.0)(10.15,11.3)(10.2,11.0)(10.25,11.6)(10.3,12.2)(10.35,12.8)(10.4,13.5)(10.45,14.3)(10.5,15.0)(10.55,15.6)(10.6,16.5)(10.65,15.4)(10.7,14.5)(10.75,13.6)(10.8,13.0)(10.85,13.6)(10.9,14.0)(10.95,14.7)(11.0,15.0)(11.05,14.1)(11.1,13.5)(11.15,12.5)(11.2,12.0)(11.25,12.6)(11.3,13.0)(11.35,13.3)(11.4,14.0)(11.45,14.9)(11.5,15.5)(11.55,16.5)(11.6,17.0)(11.65,17.2)(11.7,17.8)(11.75,18.3)(11.8,18.5)(11.85,18.7)(11.9,19.0)(11.95,19.4)(12.0,19.5)(12.05,19.8)(12.1,20.2)(12.15,20.5)(12.2,21.0)(12.25,24.0)(12.3,21.5)(12.35,20.0)(12.4,19.0)(12.45,18.2)(12.5,18.5)(12.55,19.6)(12.6,20.5)(12.65,21.0)(12.7,21.5)(12.75,19.6)(12.8,18.0)(12.85,16.3)(12.9,15.0)(12.95,13.2)(13.0,12.0)(13.05,11.6)(13.1,12.2)(13.15,12.5)(13.2,12.5)(13.25,12.2)(13.3,12.8)(13.35,13.2)(13.4,13.0)(13.45,12.7)(13.5,13.2)(13.55,13.6)(13.6,13.5)(13.65,13.3)(13.7,13.8)(13.75,14.3)(13.8,14.0)(13.85,12.8)(13.9,11.5)(13.95,12.4)(14.0,12.0)};
\addlegendentry{Vavihill, \textit{τ}=0.59, sen-slope=2.4e-02}
\addplot[meanline, forget plot] coordinates {(0,8)(14,8)};
\addplot[euline, forget plot] coordinates {(0,25)(14,25)};
\node[lbl] at (axis cs:13.3,5.8) {8 μg/m³};
\node[plab] at (axis cs:12.9,32.9) {(e)};
\end{axis}
% ---------------- (f) ----------------
\begin{axis}[panel, at={(479.5pt,50.9pt)}, anchor=south west, title={Stronger Pressure Blocking}, xlabel={Time from start of blocking [days]}]
\addplot[band] coordinates {(0,2.07)(14,2.07)(14,18.73)(0,18.73)(0,2.07)};
\addplot[edge=tomato, name path=fU] coordinates {(0,23.0)(0.1,24.0)(0.2,24.5)(0.3,23.8)(0.4,23.0)(0.5,22.0)(0.6,21.0)(0.7,20.8)(0.8,20.5)(0.9,20.8)(1.0,21.0)(1.1,21.5)(1.2,22.0)(1.3,23.0)(1.4,24.0)(1.5,25.0)(1.6,26.0)(1.7,25.5)(1.8,25.0)(1.9,23.8)(2.0,22.5)(2.1,20.8)(2.2,19.0)(2.3,17.5)(2.4,16.0)(2.5,16.8)(2.6,17.5)(2.7,15.8)(2.8,18.0)(2.9,19.0)(3.0,20.0)(3.1,21.2)(3.2,22.5)(3.3,23.2)(3.4,24.0)(3.5,22.8)(3.6,21.5)(3.7,22.0)(3.8,22.5)(3.9,22.2)(4.0,22.0)(4.1,22.5)(4.2,23.0)(4.3,24.8)(4.4,26.5)(4.5,25.5)(4.6,24.5)(4.7,24.2)(4.8,24.0)(4.9,25.5)(5.0,27.0)(5.1,28.5)(5.2,26.0)(5.3,25.8)(5.4,25.5)(5.5,25.5)(5.6,25.5)(5.7,24.0)(5.8,22.5)(5.9,22.8)(6.0,23.0)(6.1,22.2)(6.2,21.5)(6.3,22.5)(6.4,23.5)(6.5,23.8)(6.6,24.0)(6.7,24.5)(6.8,25.0)(6.9,25.8)(7.0,26.5)(7.1,27.5)(7.2,28.5)(7.3,28.2)(7.4,28.0)(7.5,29.2)(7.6,30.5)(7.7,30.8)(7.8,31.0)(7.9,32.2)(8.0,33.5)(8.1,34.5)(8.2,35.5)(8.3,36.2)(8.4,37.0)(8.5,35.0)(8.6,33.0)(8.7,31.5)(8.8,30.0)(8.9,29.2)(9.0,28.5)(9.1,28.8)(9.2,29.0)(9.3,29.8)(9.4,30.5)(9.5,29.2)(9.6,28.0)(9.7,29.0)(9.8,30.0)(9.9,29.5)(10.0,29.0)(10.1,30.0)(10.2,31.0)(10.3,30.2)(10.4,29.5)(10.5,30.5)(10.6,31.5)(10.7,29.8)(10.8,28.0)(10.9,28.5)(11.0,29.0)(11.1,25.5)(11.2,31.0)(11.3,32.0)(11.4,33.0)(11.5,34.0)(11.6,35.0)(11.7,35.8)(11.8,36.5)(11.9,35.2)(12.0,34.0)(12.1,35.8)(12.2,37.5)(12.3,36.8)(12.4,36.0)(12.5,37.0)(12.6,38.0)(12.7,37.5)(12.8,37.0)(12.9,36.0)(13.0,35.0)(13.1,35.8)(13.2,36.5)(13.3,35.2)(13.4,34.0)(13.5,33.0)(13.6,32.0)(13.7,34.2)(13.8,36.5)(13.9,36.2)(14.0,36.0)};
\addplot[edge=tomato, name path=fL] coordinates {(0,-1.0)(0.1,-0.2)(0.2,0.5)(0.3,-0.2)(0.4,-1.0)(0.5,-1.5)(0.6,-2.0)(0.7,-1.8)(0.8,-1.5)(0.9,-0.8)(1.0,0.0)(1.1,-0.2)(1.2,-0.5)(1.3,-0.8)(1.4,-1.0)(1.5,-1.2)(1.6,-1.5)(1.7,-1.2)(1.8,-1.0)(1.9,-0.2)(2.0,0.5)(2.1,1.2)(2.2,2.0)(2.3,2.8)(2.4,3.5)(2.5,4.2)(2.6,5.0)(2.7,4.8)(2.8,4.5)(2.9,4.2)(3.0,4.0)(3.1,3.8)(3.2,3.5)(3.3,2.5)(3.4,1.5)(3.5,2.0)(3.6,2.5)(3.7,3.0)(3.8,3.5)(3.9,4.0)(4.0,4.5)(4.1,4.0)(4.2,3.5)(4.3,4.2)(4.4,5.0)(4.5,4.5)(4.6,4.0)(4.7,4.2)(4.8,4.5)(4.9,4.0)(5.0,3.5)(5.1,3.0)(5.2,2.5)(5.3,2.2)(5.4,2.0)(5.5,2.2)(5.6,2.5)(5.7,2.2)(5.8,2.0)(5.9,2.5)(6.0,3.0)(6.1,2.5)(6.2,2.0)(6.3,2.5)(6.4,3.0)(6.5,4.0)(6.6,5.0)(6.7,4.5)(6.8,4.0)(6.9,3.5)(7.0,3.0)(7.1,3.5)(7.2,4.0)(7.3,3.2)(7.4,2.5)(7.5,2.2)(7.6,2.0)(7.7,1.2)(7.8,0.5)(7.9,0.0)(8.0,3.5)(8.1,4.0)(8.2,4.5)(8.3,3.8)(8.4,3.0)(8.5,2.5)(8.6,2.0)(8.7,1.8)(8.8,1.5)(8.9,1.8)(9.0,2.0)(9.1,1.8)(9.2,1.5)(9.3,2.0)(9.4,2.5)(9.5,2.2)(9.6,2.0)(9.7,2.5)(9.8,3.0)(9.9,3.5)(10.0,4.0)(10.1,5.2)(10.2,6.5)(10.3,6.8)(10.4,7.0)(10.5,7.5)(10.6,8.0)(10.7,7.0)(10.8,6.0)(10.9,5.8)(11.0,5.5)(11.1,6.5)(11.2,7.5)(11.3,8.8)(11.4,10.0)(11.5,11.0)(11.6,12.0)(11.7,13.0)(11.8,14.0)(11.9,13.0)(12.0,12.0)(12.1,11.0)(12.2,10.0)(12.3,10.5)(12.4,11.0)(12.5,10.2)(12.6,9.5)(12.7,8.8)(12.8,8.0)(12.9,7.0)(13.0,6.0)(13.1,5.0)(13.2,4.0)(13.3,2.5)(13.4,1.0)(13.5,0.0)(13.6,2.0)(13.7,4.0)(13.8,6.0)(13.9,7.5)(14.0,9.0)};
\addplot[fill=tomato, fill opacity=0.4, draw=none, forget plot] fill between[of=fU and fL];
\addplot[tomato, line width=1.8pt] coordinates {(0,11.5)(0.05,11.1)(0.1,10.8)(0.15,11.3)(0.2,11.8)(0.25,11.5)(0.3,11.4)(0.35,11.0)(0.4,11.0)(0.45,10.7)(0.5,10.4)(0.55,10.0)(0.6,9.8)(0.65,9.4)(0.7,9.5)(0.75,9.9)(0.8,10.2)(0.85,10.0)(0.9,10.3)(0.95,10.6)(1.0,10.5)(1.05,10.4)(1.1,10.8)(1.15,11.1)(1.2,11.0)(1.25,11.2)(1.3,11.5)(1.35,11.8)(1.4,12.0)(1.45,11.7)(1.5,12.2)(1.55,12.5)(1.6,12.3)(1.65,12.0)(1.7,12.1)(1.75,11.8)(1.8,12.0)(1.85,12.3)(1.9,12.1)(1.95,11.9)(2.0,12.0)(2.05,11.8)(2.1,11.5)(2.15,11.3)(2.2,11.0)(2.25,10.4)(2.3,10.0)(2.35,9.8)(2.4,10.2)(2.45,10.0)(2.5,10.5)(2.55,10.8)(2.6,10.8)(2.65,10.6)(2.7,11.0)(2.75,11.3)(2.8,11.2)(2.85,11.0)(2.9,11.3)(2.95,11.6)(3.0,11.5)(3.05,11.7)(3.1,11.9)(3.15,12.3)(3.2,12.2)(3.25,12.0)(3.3,12.4)(3.35,12.7)(3.4,12.5)(3.45,12.3)(3.5,12.2)(3.55,11.9)(3.6,12.0)(3.65,12.4)(3.7,12.2)(3.75,12.0)(3.8,12.5)(3.85,12.9)(3.9,12.8)(3.95,12.6)(4.0,13.0)(4.05,12.8)(4.1,13.1)(4.15,13.4)(4.2,13.2)(4.25,13.3)(4.3,13.6)(4.35,13.9)(4.4,14.0)(4.45,14.6)(4.5,15.0)(4.55,14.6)(4.6,14.2)(4.65,13.9)(4.7,14.1)(4.75,14.4)(4.8,14.0)(4.85,13.8)(4.9,14.2)(4.95,14.3)(5.0,14.5)(5.05,15.0)(5.1,15.5)(5.15,15.0)(5.2,14.5)(5.25,14.3)(5.3,14.2)(5.35,14.4)(5.4,14.0)(5.45,13.8)(5.5,13.5)(5.55,13.3)(5.6,13.0)(5.65,12.6)(5.7,12.5)(5.75,12.3)(5.8,12.0)(5.85,12.4)(5.9,12.1)(5.95,11.9)(6.0,12.2)(6.05,12.0)(6.1,11.8)(6.15,11.4)(6.2,11.2)(6.25,11.5)(6.3,11.8)(6.35,12.2)(6.4,12.5)(6.45,12.4)(6.5,12.8)(6.55,13.1)(6.6,13.0)(6.65,12.8)(6.7,13.2)(6.75,13.5)(6.8,13.5)(6.85,13.4)(6.9,14.0)(6.95,14.4)(7.0,14.5)(7.05,14.7)(7.1,15.0)(7.15,15.4)(7.2,15.5)(7.25,15.4)(7.3,16.0)(7.35,16.3)(7.4,16.5)(7.45,16.1)(7.5,16.2)(7.55,16.5)(7.6,16.0)(7.65,15.7)(7.7,15.5)(7.75,15.2)(7.8,15.0)(7.85,15.6)(7.9,16.0)(7.95,16.4)(8.0,17.0)(8.05,17.7)(8.1,18.2)(8.15,19.0)(8.2,19.5)(8.25,19.7)(8.3,20.0)(8.35,20.2)(8.4,20.5)(8.45,20.0)(8.5,19.8)(8.55,19.4)(8.6,19.0)(8.65,18.9)(8.7,18.5)(8.75,18.2)(8.8,18.0)(8.85,17.5)(8.9,17.0)(8.95,16.3)(9.0,16.0)(9.05,16.3)(9.1,16.0)(9.15,15.7)(9.2,16.0)(9.25,16.4)(9.3,16.5)(9.35,16.9)(9.4,17.0)(9.45,16.7)(9.5,16.5)(9.55,16.1)(9.6,16.0)(9.65,16.2)(9.7,16.4)(9.75,16.1)(9.8,16.8)(9.85,17.0)(9.9,16.6)(9.95,16.3)(10.0,16.5)(10.05,16.3)(10.1,16.8)(10.15,17.2)(10.2,17.0)(10.25,17.3)(10.3,17.5)(10.35,17.8)(10.4,18.0)(10.45,18.3)(10.5,19.0)(10.55,18.2)(10.6,17.5)(10.65,17.1)(10.7,17.2)(10.75,17.5)(10.8,17.0)(10.85,16.8)(10.9,17.1)(10.95,17.4)(11.0,17.2)(11.05,16.5)(11.1,15.5)(11.15,18.0)(11.2,20.0)(11.25,20.3)(11.3,20.5)(11.35,20.8)(11.4,21.0)(11.45,21.5)(11.5,22.0)(11.55,22.3)(11.6,23.0)(11.65,23.4)(11.7,23.5)(11.75,23.7)(11.8,24.0)(11.85,24.3)(11.9,23.8)(11.95,23.4)(12.0,23.5)(12.05,23.1)(12.1,23.0)(12.15,22.6)(12.2,22.5)(12.25,22.8)(12.3,23.5)(12.35,24.0)(12.4,24.5)(12.45,24.9)(12.5,25.0)(12.55,25.3)(12.6,25.5)(12.65,25.8)(12.7,26.5)(12.75,25.6)(12.8,25.0)(12.85,25.2)(12.9,24.5)(12.95,24.1)(13.0,24.0)(13.05,23.6)(13.1,23.0)(13.15,22.4)(13.2,22.0)(13.25,21.7)(13.3,21.2)(13.35,20.6)(13.4,20.5)(13.45,20.2)(13.5,20.0)(13.55,19.6)(13.6,19.5)(13.65,19.9)(13.7,20.2)(13.75,20.5)(13.8,21.0)(13.85,21.5)(13.9,21.8)(13.95,22.1)(14.0,22.5)};
\addlegendentry{Malmö, \textit{τ}=0.76, sen-slope=3.6e-02}
\addplot[meanline, forget plot] coordinates {(0,10.4)(14,10.4)};
\addplot[euline, forget plot] coordinates {(0,25)(14,25)};
\node[lbl] at (axis cs:13.3,8.3) {10 μg/m³};
\node[plab] at (axis cs:12.9,32.9) {(f)};
\end{axis}
\end{tikzpicture}
\end{document}
